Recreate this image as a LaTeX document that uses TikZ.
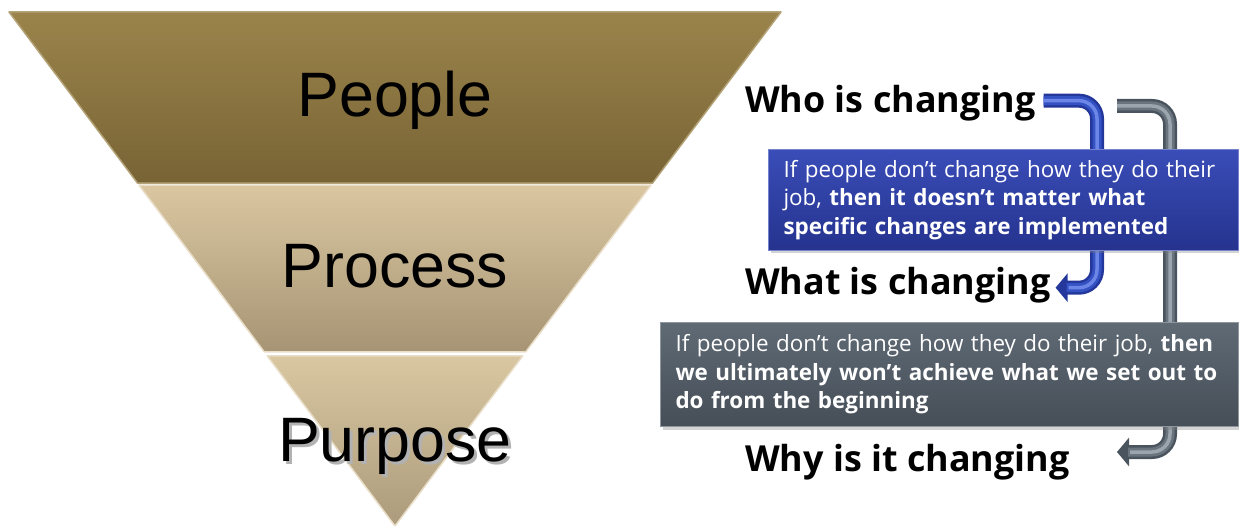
\documentclass[tikz,border=0pt]{standalone}
\usepackage{fontspec}
\setmainfont{Liberation Sans}
\newfontfamily\uifont{Open Sans}
\usepackage{tikz}
\usetikzlibrary{calc,backgrounds,shadows,arrows.meta}
\usetikzlibrary{positioning}
\usepackage{xcolor}
\definecolor{peopletop}{HTML}{9B844B}
\definecolor{peoplebot}{HTML}{786335}
\definecolor{processtop}{HTML}{DAC7A1}
\definecolor{processbot}{HTML}{A69474}
\definecolor{purposetop}{HTML}{D9C7A1}
\definecolor{purposebot}{HTML}{AC9B7C}
\definecolor{bluetop}{HTML}{3A4DB8}
\definecolor{bluebot}{HTML}{25338E}
\definecolor{graytop}{HTML}{5F6A75}
\definecolor{graybot}{HTML}{464E57}
\definecolor{bluepipe}{HTML}{24379A}
\definecolor{bluemid}{HTML}{3552C4}
\definecolor{blueshine}{HTML}{6B86E6}
\definecolor{graypipe}{HTML}{4A545E}
\definecolor{graymid}{HTML}{69747E}
\definecolor{grayshine}{HTML}{9BA5AE}
\tikzstyle{layer}=[
  line width=1.5bp, line join=round
]
\tikzstyle{layerlabel}=[
  font=\fontsize{63}{63}\selectfont, anchor=base, inner sep=0pt
]
\tikzstyle{question}=[
  font=\uifont\bfseries\fontsize{36}{36}\selectfont, anchor=base west, inner sep=0pt
]
\tikzstyle{notebox}=[
  anchor=north west, text=white, align=left, inner xsep=15bp,
  font=\uifont\fontsize{22.5}{28.5}\selectfont, line width=1bp,
  drop shadow={shadow xshift=2bp, shadow yshift=-3bp, opacity=0.35}
]
\tikzstyle{pipe}=[
  line width=14bp, rounded corners=18bp, -{Triangle[length=12bp,width=28bp]}
]
\tikzstyle{pipemid}=[
  line width=9bp, rounded corners=18bp, shorten >=11bp
]
\tikzstyle{pipeshine}=[
  line width=3.5bp, rounded corners=18bp, shorten >=13bp
]
% soft shadow behind a label
\newcommand{\shadowed}[1]{\rlap{\hspace{3bp}\raisebox{-3bp}{\color{black!30}#1}}#1}

\begin{document}
\begin{tikzpicture}[x=1bp,y=-1bp]
    \useasboundingbox (0,0) rectangle (1239,526);
    % the upside-down pyramid, one band at a time
    \coordinate (tl) at (9,12);
    \coordinate (tr) at (781,12);
    \coordinate (tip) at (395,526);
    \path[layer, draw=peopletop!75!white, top color=peopletop, bottom color=peoplebot]
      (tl) -- (tr) -- ($(tr)!0.333!(tip)$) -- ($(tl)!0.333!(tip)$) -- cycle;
    \path[layer, draw=processtop!60!white, top color=processtop, bottom color=processbot]
      ($(tl)!0.337!(tip)$) -- ($(tr)!0.337!(tip)$) -- ($(tr)!0.661!(tip)$) -- ($(tl)!0.661!(tip)$) -- cycle;
    \path[layer, draw=purposetop!60!white, top color=purposetop, bottom color=purposebot]
      ($(tl)!0.669!(tip)$) -- ($(tr)!0.669!(tip)$) -- (tip) -- cycle;
    \node (people) at (395,117) [layerlabel] {People};
    \node (process) at (395,288) [layerlabel] {Process};
    \node (purpose) at (395,461) [layerlabel] {\shadowed{Purpose}};
    % the three questions
    \node (who) at (745,113) [question] {Who is changing};
    \node (what) at (745,295) [question] {What is changing};
    \node (why) at (745,471) [question] {Why is it changing};
    % notes
    \node (bluenote) at (768,149) [notebox, draw=bluetop!70!white, top color=bluetop, bottom color=bluebot,
      text width=440bp, minimum height=101bp]
      {If people don’t change how they do their\\ job, \textbf{then it doesn’t matter what}\\
       \textbf{specific changes are implemented}};
    \node (graynote) at (660,322) [notebox, draw=graytop!70!white, top color=graytop, bottom color=graybot,
      text width=548bp, minimum height=104bp]
      {If people don’t change how they do their job, \textbf{then}\\
       \textbf{we ultimately won’t achieve what we set out to}\\ \textbf{do from the beginning}};
    \begin{scope}[on background layer]
      \coordinate (bluebend) at (1097,190);
      \coordinate (graystart) at (1117,106);
      \coordinate (graybend) at (1170,300);
      \coordinate (grayend) at (1117,452);
      \draw [pipe, draw=bluepipe] ([xshift=8bp,yshift=3bp]who.east) -| (bluebend) |- ([xshift=5bp,yshift=-2bp]what.east);
      \draw [pipemid, draw=bluemid] ([xshift=8bp,yshift=3bp]who.east) -| (bluebend) |- ([xshift=5bp,yshift=-2bp]what.east);
      \draw [pipeshine, draw=blueshine] ([xshift=8bp,yshift=3bp]who.east) -| (bluebend) |- ([xshift=5bp,yshift=-2bp]what.east);
      \draw [pipe, draw=graypipe] (graystart) -| (graybend) |- (grayend);
      \draw [pipemid, draw=graymid] (graystart) -| (graybend) |- (grayend);
      \draw [pipeshine, draw=grayshine] (graystart) -| (graybend) |- (grayend);
    \end{scope}
\end{tikzpicture}
\end{document}
